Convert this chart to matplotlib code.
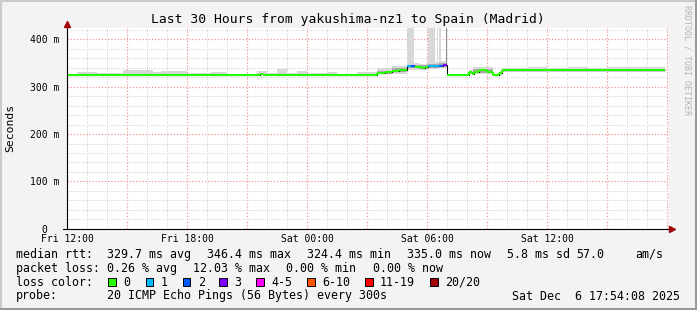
import matplotlib
matplotlib.use("Agg")
import matplotlib.pyplot as plt
from matplotlib.lines import Line2D
from matplotlib.patches import Rectangle

W, H = 697, 310
MONO = "DejaVu Sans Mono"

TITLE = "Last 30 Hours from yakushima-nz1 to Spain (Madrid)"
X_TICKS = [0, 3, 6, 9, 12, 15, 18, 21, 24, 27, 30]
X_LABELS = ["Fri 12:00", "", "Fri 18:00", "", "Sat 00:00", "", "Sat 06:00", "", "Sat 12:00", "", ""]
Y_TICKS = [0, 100, 200, 300, 400]
Y_LABELS = ["0  ", "100 m", "200 m", "300 m", "400 m"]

# median rtt in ms, as steps; edges are hours since Fri 12:00
prof_edges = [0.0, 3.65, 4.25, 9.65, 9.8, 15.52, 15.9, 16.25, 16.6, 16.98, 17.2, 17.4,
              17.75, 17.9, 18.05, 18.6, 18.8, 19.02, 20.1, 20.25, 20.35, 20.6, 21.0,
              21.28, 21.6, 21.75, 29.9]
median_ms = [325.5, 324.6, 325.5, 327.0, 325.5, 330.0, 331.5, 334.0, 335.5, 344.0, 344.0,
             342.5, 340.5, 342.5, 344.5, 345.0, 346.4, 325.0, 331.0, 326.0, 332.0, 335.0,
             331.0, 325.0, 330.0, 335.2]
loss_class = [0, 0, 0, 0, 0, 0, 0, 0, 0, 1, 2, 0, 0, 0, 1, 2, 3, 0, 0, 0, 0, 0, 0, 0, 0, 0]

# smoke (spread of the 20 pings)
smoke_edges = [0, 0.5, 1.5, 2.8, 4.3, 4.7, 6.0, 7.2, 8.0, 9.5, 10.0, 10.5, 11.0, 11.5,
               12.0, 13.0, 13.5, 14.5, 15.52, 16.25, 16.98, 17.6, 18.05, 18.6, 19.02,
               20.1, 20.3, 21.28, 21.75, 23.0, 24.0, 25.0, 26.0, 27.0, 28.0, 29.0, 29.9]
smoke_lo = [323, 323, 323, 323, 323, 323, 323, 323, 323, 324, 323, 323, 323, 323,
            323, 323, 323, 323, 326, 328, 336, 335, 337, 339, 323,
            326, 326, 323, 332, 332, 332, 332, 332, 332, 332, 332]
smoke_hi = [327, 331, 329, 336, 331, 333, 329, 332, 328, 333, 329, 337, 330, 334,
            329, 331, 328, 332, 339, 343, 350, 348, 352, 354, 328,
            336, 341, 328, 340, 341, 339, 341, 339, 341, 342, 342]
core_lo = [None] * 18 + [328, 331, 339, 338, 340, 342, None, None, 329, None, 333,
                         None, None, None, None, None, None, None]
core_hi = [None] * 18 + [334, 339, 347, 346, 348, 350, None, None, 337, None, 337,
                         None, None, None, None, None, None, None]

# pings far above the chart during the unstable period
spike_start = [16.98, 18.03, 18.48, 18.62]
spike_end = [17.35, 18.40, 18.56, 18.72]
spike_base = [348, 348, 350, 350]
spike_top = 500

LOSS_LABELS = ["0", "1", "2", "3", "4-5", "6-10", "11-19", "20/20"]
LOSS_COLORS = ["#26ff00", "#00b8ff", "#0059ff", "#7e00ff", "#ff00ff", "#ff5500",
               "#ff0000", "#a10000"]

RTT_VALUES = ["329.7 ms avg", "346.4 ms max", "324.4 ms min", "335.0 ms now",
              "5.8 ms sd", "57.0", "am/s"]
LOSS_VALUES = ["0.26 % avg", "12.03 % max", "0.00 % min", "0.00 % now"]
PROBE_TEXT = "20 ICMP Echo Pings (56 Bytes) every 300s"
DATE_TEXT = "Sat Dec  6 17:54:08 2025"


def fx(x):
    return x / W


def fy(y):
    return 1 - y / H


fig = plt.figure(figsize=(W / 100, H / 100), dpi=100)
fig.patch.set_facecolor("#f3f3f3")

# 3d frame
fig.add_artist(Line2D([0, 1], [fy(0.5), fy(0.5)], color="#cbcbcb", lw=1.5))
fig.add_artist(Line2D([fx(0.5), fx(0.5)], [0, 1], color="#cbcbcb", lw=1.5))
fig.add_artist(Line2D([fx(695.5), fx(695.5)], [0, 1], color="#9a9a9a", lw=2.2))
fig.add_artist(Line2D([0, 1], [fy(308.5), fy(308.5)], color="#9a9a9a", lw=2.2))

ax = fig.add_axes([fx(67), fy(228.7), 601 / W, 200.7 / H])
ax.set_facecolor("white")
ax.set_xlim(0, 30.05)
ax.set_ylim(0, 424.3)
for s in ax.spines.values():
    s.set_visible(False)

ax.set_xticks(X_TICKS, labels=X_LABELS)
ax.set_xticks([h for h in range(0, 31) if h % 3], minor=True)
ax.set_yticks(Y_TICKS, labels=Y_LABELS)
ax.set_yticks([v for v in range(0, 421, 20) if v % 100], minor=True)
ax.tick_params(which="both", length=0)
ax.tick_params(axis="x", pad=3.5)
ax.tick_params(axis="y", pad=5.5)
for lab in ax.get_xticklabels() + ax.get_yticklabels():
    lab.set_fontfamily(MONO)
    lab.set_fontsize(7)
ax.grid(which="minor", color="#d8d8d8", lw=0.72, linestyle=(0.5, (1, 2)), antialiased=False)
ax.grid(which="major", color="#f29494", lw=0.9, linestyle=(0, (1, 1.5)), antialiased=True)
ax.set_axisbelow(True)

# smoke
ax.stairs(smoke_hi, smoke_edges, baseline=smoke_lo, fill=True, color="#d8d8d8", lw=0)
for i in range(len(core_hi)):
    if core_hi[i] is not None:
        ax.fill_between([smoke_edges[i], smoke_edges[i + 1]], core_lo[i], core_hi[i],
                        color="#ababab", lw=0)
for s0, s1, b in zip(spike_start, spike_end, spike_base):
    ax.fill_between([s0, s1], b, spike_top, color="#d8d8d8", lw=0)
ax.fill_between([18.96, 19.01], 346, spike_top, color="#8c8c8c", lw=0)

# median line, coloured by loss
ax.stairs(median_ms, prof_edges, baseline=None, color="black", lw=0.8)
for i, v in enumerate(median_ms):
    c = LOSS_COLORS[loss_class[i]]
    ax.hlines(v, prof_edges[i], prof_edges[i + 1], color=c, lw=1.5)
    if i > 0 and loss_class[i] == loss_class[i - 1]:
        ax.vlines(prof_edges[i], median_ms[i - 1], v, color=c, lw=1.5)

# axis lines and arrows
ax.plot([-4 / 601, 1 + 3 / 601], [0, 0], transform=ax.transAxes, color="black",
        lw=0.8, clip_on=False)
ax.plot([0, 0], [0, 1 + 4 / 200.7], transform=ax.transAxes, color="black",
        lw=0.8, clip_on=False)
ax.plot([0], [1 + 4 / 200.7], marker="^", ms=4.5, color="#a00000",
        transform=ax.transAxes, clip_on=False)
ax.plot([1 + 4 / 601], [0], marker=">", ms=4.5, color="#a00000",
        transform=ax.transAxes, clip_on=False)

fig.text(fx(348), fy(19), TITLE, ha="center", va="center", family=MONO, fontsize=9.4)
fig.text(fx(10), fy(128), "Seconds", rotation=90, ha="center", va="center",
         family=MONO, fontsize=8.2)
fig.text(fx(687), fy(60), "RRDTOOL / TOBI OETIKER", rotation=-90, ha="center",
         va="center", family=MONO, fontsize=6, color="#b4b4b4")

LEG = dict(family=MONO, fontsize=8.4, va="center", ha="left")
row_y = [254.3, 268.3, 282.3, 296.0]
fig.text(fx(16), fy(row_y[0]), "median rtt:", **LEG)
for x, t in zip([107.3, 207.3, 307.3, 407.3, 507.3, 576.7, 635], RTT_VALUES):
    fig.text(fx(x), fy(row_y[0]), t, **LEG)
fig.text(fx(16), fy(row_y[1]), "packet loss:", **LEG)
for x, t in zip([107.3, 193.3, 286, 372.7], LOSS_VALUES):
    fig.text(fx(x), fy(row_y[1]), t, **LEG)
fig.text(fx(16), fy(row_y[2]), "loss color:", **LEG)
for x, lab, c in zip([108.3, 145.7, 182.7, 219.3, 256, 307.3, 365, 430],
                     LOSS_LABELS, LOSS_COLORS):
    fig.add_artist(Rectangle((fx(x), fy(286)), 7.7 / W, 7.7 / H, facecolor=c,
                             edgecolor="black", lw=0.7))
    fig.text(fx(x + 15), fy(row_y[2]), lab, **LEG)
fig.text(fx(16), fy(row_y[3]), "probe:", **LEG)
fig.text(fx(107.3), fy(row_y[3]), PROBE_TEXT, **LEG)
fig.text(fx(680), fy(row_y[3]), DATE_TEXT, family=MONO, fontsize=8.4, va="center",
         ha="right")

fig.savefig("out.png", dpi=100, facecolor=fig.get_facecolor())
